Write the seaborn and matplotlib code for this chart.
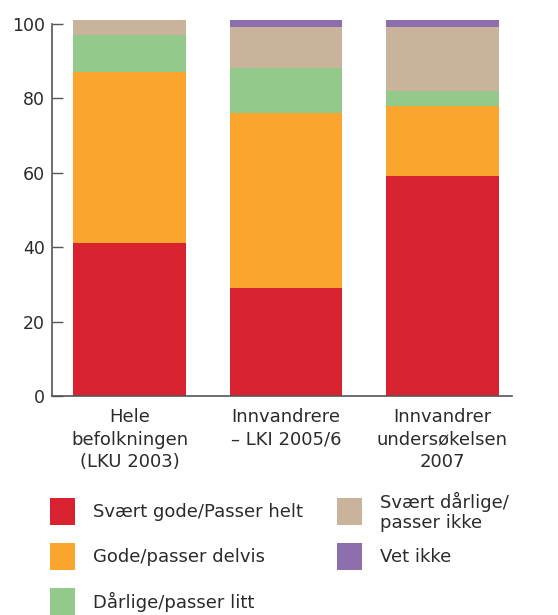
import matplotlib
matplotlib.use("Agg")
import matplotlib.pyplot as plt
from matplotlib.patches import Rectangle
import numpy as np
import seaborn as sns

sns.set_theme(style="white")
plt.rcParams["font.family"] = ["DejaVu Sans"]

# ---- data ----
categories = ["Hele\nbefolkningen\n(LKU 2003)",
              "Innvandrere\n– LKI 2005/6",
              "Innvandrer\nundersøkelsen\n2007"]
series = ["Svært gode/Passer helt", "Gode/passer delvis", "Dårlige/passer litt",
          "Svært dårlige/\npasser ikke", "Vet ikke"]
svaert_gode = [41, 29, 59]
gode = [46, 47, 19]
darlige = [10, 12, 4]
svaert_darlige = [4, 11, 17]
vet_ikke = [0, 2, 2]
colors = ["#D92230", "#F9A52E", "#93C98B", "#C9B49B", "#8E6FAD"]

W, H = 558, 615
TXT = "#2b2b2b"
AXC = "#555555"
FS = 13

fig = plt.figure(figsize=(W / 100, H / 100), dpi=100)
ax = fig.add_axes([52 / W, 1 - 396 / H, (512 - 52) / W, (396 - 20) / H])

bottom = np.zeros(len(categories))
for vals, c in zip([svaert_gode, gode, darlige, svaert_darlige, vet_ikke], colors):
    sns.barplot(x=list(range(len(categories))), y=vals, bottom=bottom, color=c,
                width=0.72, saturation=1, ax=ax, linewidth=0)
    bottom = bottom + np.array(vals)

ax.set_xlim(-0.495, 2.445)
ax.set_ylim(0, 101)
ax.set_yticks([0, 20, 40, 60, 80, 100])
ax.set_xticks([0, 1, 2])
ax.set_xticklabels(categories, fontsize=FS, color=TXT, linespacing=1.3)
ax.set_xticks([0.5, 1.5, 2.445], minor=True)
ax.tick_params(axis="x", which="major", length=0, pad=9)
ax.tick_params(axis="x", which="minor", direction="in", length=6, width=1, color=AXC)
ax.tick_params(axis="y", direction="in", length=8, width=1, color=AXC,
               labelsize=12.5, labelcolor=TXT, pad=5, left=True)
ax.set_xlabel("")
ax.set_ylabel("")
for s in ["top", "right"]:
    ax.spines[s].set_visible(False)
for s in ["left", "bottom"]:
    ax.spines[s].set_color(AXC)
    ax.spines[s].set_linewidth(1.2)
ax.spines["left"].set_bounds(0, 100)

# ---- legend (drawn by hand: 3 + 2 columns) ----
col_x = [50, 337]
row_y = [498, 543, 588]
for i, (lab, c) in enumerate(zip(series, colors)):
    x0 = col_x[i // 3]
    y0 = row_y[i % 3]
    fig.patches.append(Rectangle((x0 / W, 1 - (y0 + 27) / H), 25 / W, 27 / H,
                                 transform=fig.transFigure, color=c, lw=0))
    fig.text((x0 + 43) / W, 1 - (y0 + 14) / H, lab, fontsize=FS, color=TXT,
             va="center", ha="left", linespacing=1.2)

fig.savefig("out.png", dpi=100)
